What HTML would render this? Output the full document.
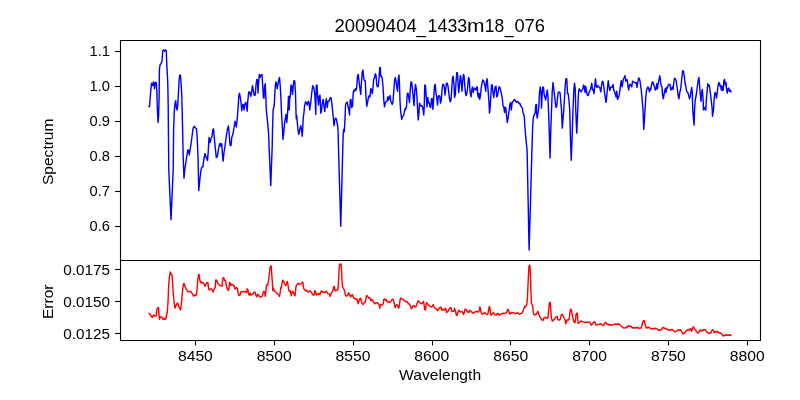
<!DOCTYPE html>
<html><head><meta charset="utf-8"><title>20090404_1433m18_076</title>
<style>
html,body{margin:0;padding:0;background:#fff;}
body{width:800px;height:400px;overflow:hidden;font-family:"Liberation Sans",sans-serif;}
svg{display:block;}
</style></head><body>
<svg width="800" height="400" viewBox="0 0 800 400">
<rect x="0" y="0" width="800" height="400" fill="#fff"/>
<path d="M148.50,107.30 L149.50,106.20 L150.50,93.75 L151.50,83.10 L152.50,85.60 L153.50,81.90 L154.50,88.75 L155.30,82.25 L156.25,82.75 L156.90,92.50 L157.50,112.50 L158.10,122.50 L158.60,116.00 L159.10,98.75 L159.40,70.00 L160.00,65.00 L161.00,63.75 L162.00,61.25 L162.75,50.60 L163.75,50.00 L164.50,51.25 L165.40,50.00 L166.25,50.60 L166.75,63.75 L167.75,82.50 L168.20,105.00 L168.40,130.00 L168.80,170.00 L171.00,219.60 L173.20,170.00 L173.60,130.00 L174.25,111.25 L175.00,103.75 L175.75,100.60 L176.50,108.75 L177.10,110.00 L177.75,105.00 L178.75,87.50 L179.00,81.25 L179.75,75.00 L180.50,75.60 L181.25,86.25 L181.75,95.00 L182.00,105.00 L182.50,125.00 L183.20,157.50 L184.00,178.10 L184.75,170.00 L186.25,160.00 L187.75,150.00 L188.50,150.00 L189.25,155.00 L190.25,148.75 L191.90,137.50 L193.10,128.10 L194.40,126.25 L195.60,128.10 L196.50,128.75 L197.25,138.75 L198.00,157.50 L198.75,190.60 L200.00,178.00 L201.00,170.00 L201.90,166.90 L202.90,166.90 L203.75,160.00 L205.00,153.50 L206.25,157.50 L207.50,160.60 L208.25,151.25 L209.00,137.50 L210.00,142.50 L211.00,138.75 L212.00,136.25 L212.75,130.00 L213.50,128.75 L214.25,137.50 L215.25,147.50 L216.25,157.50 L217.25,156.90 L218.50,148.75 L220.00,143.10 L221.00,146.25 L221.75,143.75 L222.50,155.00 L223.10,161.25 L224.00,152.50 L225.00,146.25 L226.25,136.25 L227.50,128.75 L228.50,126.00 L229.25,135.00 L230.00,145.00 L231.00,145.60 L231.75,137.50 L233.00,133.75 L234.00,127.50 L235.00,121.25 L235.50,122.50 L236.25,127.00 L237.00,121.00 L237.75,112.00 L238.25,105.00 L238.80,96.00 L239.50,93.12 L240.50,98.75 L241.25,105.00 L241.75,110.62 L242.50,105.00 L243.25,104.38 L244.00,110.00 L244.75,105.00 L245.50,102.50 L246.25,103.12 L247.12,111.25 L247.75,101.25 L248.75,91.88 L249.75,91.88 L250.75,96.25 L251.50,93.12 L252.50,85.62 L253.25,90.00 L254.25,95.62 L255.25,95.00 L256.00,85.00 L256.75,79.38 L257.50,80.00 L258.00,93.12 L258.50,83.75 L259.25,74.38 L260.00,77.50 L261.00,75.00 L262.00,74.38 L262.75,86.25 L263.50,98.12 L264.00,98.12 L264.50,87.50 L265.25,83.75 L265.88,98.75 L266.25,108.75 L266.75,115.00 L267.75,123.75 L268.75,136.25 L269.00,145.00 L270.75,185.60 L272.25,145.00 L272.50,130.00 L273.12,110.00 L273.75,107.50 L274.25,105.00 L275.00,90.00 L275.75,81.88 L276.50,83.75 L277.25,88.75 L278.00,83.75 L278.75,80.00 L279.50,77.50 L280.25,86.25 L281.00,100.00 L281.50,112.50 L282.00,121.25 L282.50,130.00 L283.00,139.38 L283.75,132.50 L284.50,123.75 L285.25,118.75 L286.00,114.38 L286.75,122.50 L287.25,117.50 L287.75,110.00 L288.00,106.25 L288.50,96.25 L289.25,110.00 L289.75,96.25 L290.25,97.50 L291.00,85.00 L291.75,86.25 L292.50,94.38 L293.25,85.00 L294.00,80.62 L294.75,81.25 L295.50,93.75 L296.00,112.50 L296.25,118.75 L296.75,115.62 L297.25,122.50 L298.00,130.00 L298.75,134.38 L299.75,130.00 L300.75,125.62 L301.50,130.00 L302.25,136.25 L302.75,127.50 L303.25,117.50 L304.00,112.50 L304.50,106.25 L305.50,101.88 L306.50,102.50 L307.25,105.00 L308.25,101.25 L309.00,102.50 L309.75,110.00 L310.75,102.50 L311.75,92.50 L312.75,85.62 L313.75,87.50 L314.75,93.75 L315.25,102.50 L315.75,114.38 L316.25,85.62 L317.00,85.00 L317.75,97.50 L318.50,105.00 L319.25,96.25 L320.00,95.00 L320.75,113.12 L321.50,111.25 L322.25,103.75 L323.25,99.38 L324.00,106.25 L324.75,111.50 L325.50,103.75 L326.25,98.75 L327.25,107.50 L328.00,101.25 L329.00,101.25 L330.00,98.12 L331.00,97.50 L331.75,102.50 L332.50,110.00 L332.75,112.50 L333.50,120.00 L334.00,125.62 L334.75,120.00 L335.50,118.12 L336.25,118.75 L337.00,122.50 L337.75,126.25 L338.20,134.00 L338.40,145.00 L340.75,226.25 L343.00,140.00 L343.30,132.50 L343.75,129.40 L344.30,131.90 L345.00,118.75 L345.50,106.00 L345.75,103.75 L346.50,103.12 L347.25,101.88 L348.00,106.25 L348.75,109.38 L349.50,115.00 L350.25,100.00 L351.00,99.38 L351.75,107.50 L352.50,106.25 L353.25,92.50 L354.00,90.00 L354.75,91.25 L355.50,88.75 L356.25,90.00 L356.75,86.88 L357.50,76.25 L358.25,74.38 L359.00,81.25 L359.75,87.50 L360.75,94.38 L361.50,81.25 L362.25,71.88 L363.00,70.00 L363.75,78.75 L364.50,80.62 L365.25,80.62 L366.00,97.50 L366.75,106.25 L367.50,102.50 L368.50,97.50 L369.25,95.62 L370.00,96.88 L370.75,88.75 L371.50,89.38 L372.25,93.75 L373.00,87.50 L373.75,78.75 L374.50,78.12 L375.25,73.75 L376.00,75.00 L376.75,85.00 L377.50,86.88 L378.25,86.25 L379.00,78.75 L379.75,67.50 L380.25,67.50 L380.75,76.25 L381.50,76.25 L382.25,78.75 L383.00,86.25 L383.75,100.00 L384.50,106.88 L385.25,102.50 L386.00,101.88 L387.00,101.25 L387.75,96.88 L388.50,100.00 L389.25,96.88 L390.00,95.62 L390.75,101.25 L391.50,102.50 L392.25,104.38 L393.00,101.25 L393.75,91.25 L394.50,81.25 L395.25,77.50 L396.00,81.25 L396.75,86.88 L397.50,91.25 L398.25,78.75 L399.00,75.00 L399.50,85.00 L400.00,101.25 L400.75,112.50 L401.75,119.38 L402.50,116.25 L403.50,115.62 L404.25,112.50 L405.00,108.75 L405.75,109.38 L406.50,106.25 L407.25,93.75 L408.00,93.12 L408.75,97.50 L409.50,102.50 L410.25,90.00 L411.00,81.88 L411.75,82.50 L412.50,90.00 L413.25,97.50 L414.00,105.62 L414.75,91.25 L415.50,84.38 L416.25,88.75 L417.00,97.50 L417.75,112.50 L418.25,120.00 L419.00,112.50 L419.50,103.12 L420.25,105.00 L421.00,106.25 L421.75,105.62 L422.50,106.88 L423.25,111.25 L423.75,115.00 L424.25,106.25 L424.75,85.00 L425.50,85.62 L426.25,97.50 L427.00,106.88 L427.75,97.50 L428.50,103.12 L429.25,102.50 L430.00,106.88 L430.75,107.50 L431.50,98.75 L432.25,98.75 L432.88,109.38 L433.75,97.50 L434.50,85.62 L435.25,84.38 L436.00,93.12 L436.75,97.50 L437.50,105.00 L438.25,96.25 L439.00,95.62 L439.75,96.25 L440.50,103.12 L441.25,100.00 L442.00,90.00 L442.75,84.38 L443.50,84.38 L444.25,86.88 L445.00,95.00 L445.75,88.75 L446.50,83.12 L447.25,83.12 L448.00,86.25 L448.75,92.50 L449.50,98.75 L450.25,101.88 L451.00,100.00 L451.75,88.75 L452.50,77.50 L453.25,76.25 L454.00,85.00 L454.50,97.50 L455.25,95.00 L456.00,82.50 L456.75,72.50 L457.50,73.12 L458.00,82.50 L458.75,92.50 L459.50,85.00 L460.25,75.62 L460.75,76.25 L461.50,85.00 L462.00,91.25 L462.75,80.00 L463.50,74.38 L464.00,75.62 L464.75,85.00 L465.50,93.75 L466.25,95.62 L467.00,92.50 L467.75,86.25 L468.50,77.50 L469.25,78.75 L470.00,91.25 L471.00,96.88 L471.75,90.00 L472.50,86.88 L473.25,92.50 L473.75,89.38 L474.50,88.12 L475.25,89.38 L476.00,90.00 L476.75,86.88 L477.25,86.88 L477.75,95.00 L478.50,97.50 L479.00,93.12 L479.75,99.38 L480.50,95.00 L481.25,87.50 L482.00,83.12 L482.75,80.00 L483.50,80.62 L484.25,83.12 L485.00,86.25 L485.75,91.25 L486.25,82.50 L487.00,78.75 L487.50,82.50 L488.25,92.50 L489.00,102.50 L489.50,113.12 L490.12,107.50 L490.75,97.50 L491.50,85.00 L492.25,85.00 L493.00,92.50 L493.75,97.50 L494.50,91.25 L495.25,86.88 L496.00,86.25 L496.75,96.88 L497.50,95.62 L498.25,91.25 L499.00,86.88 L499.75,86.88 L500.50,90.00 L501.25,93.12 L502.00,96.88 L502.75,102.50 L502.75,105.00 L503.75,106.88 L504.50,112.50 L505.00,107.50 L505.75,107.50 L506.50,115.00 L507.25,122.50 L508.00,118.75 L509.00,111.25 L510.00,103.75 L510.75,102.50 L511.25,110.00 L512.00,103.75 L512.50,101.88 L513.38,101.00 L514.62,99.50 L515.62,101.00 L516.50,102.50 L517.50,101.50 L518.38,102.00 L519.00,103.75 L520.00,103.38 L520.62,105.62 L521.50,106.88 L522.50,108.50 L523.00,113.12 L523.62,113.75 L524.38,117.50 L524.75,125.00 L525.50,133.75 L526.25,142.50 L527.10,150.00 L528.20,205.00 L529.10,250.00 L530.40,205.00 L531.90,150.00 L532.75,125.00 L533.50,116.25 L534.50,114.38 L535.25,112.50 L535.75,105.00 L536.50,104.38 L536.50,112.50 L537.25,118.12 L538.00,112.50 L538.75,107.50 L539.50,92.50 L540.25,86.88 L541.00,92.50 L541.50,108.12 L542.00,97.50 L542.75,86.88 L543.50,87.50 L544.25,95.00 L545.00,97.50 L545.75,100.00 L546.50,95.00 L547.25,90.00 L548.00,97.50 L548.50,110.00 L549.20,130.00 L550.00,158.10 L550.80,130.00 L551.50,110.00 L552.25,91.25 L553.00,82.50 L553.75,88.75 L554.50,95.00 L555.25,102.50 L556.00,107.50 L556.75,106.25 L557.50,97.50 L558.25,92.50 L559.00,91.88 L560.00,92.50 L560.75,101.25 L561.50,110.00 L562.25,128.10 L563.75,110.00 L564.50,97.50 L565.25,85.00 L566.00,78.75 L566.75,78.75 L567.50,93.75 L568.25,93.75 L569.00,101.25 L569.75,110.00 L570.50,140.00 L571.25,160.25 L572.00,140.00 L573.00,110.00 L573.75,91.25 L574.50,83.12 L575.25,88.75 L575.75,110.00 L576.75,133.10 L577.75,110.00 L578.50,92.50 L579.25,88.75 L580.00,90.00 L581.00,91.88 L582.00,90.00 L582.75,89.38 L583.50,85.00 L584.25,86.25 L585.00,92.50 L585.75,86.25 L586.50,91.25 L587.25,95.00 L588.00,95.62 L588.75,93.75 L589.50,91.25 L590.25,90.00 L591.00,87.50 L591.75,83.12 L592.50,90.00 L593.25,89.38 L594.00,93.75 L594.75,86.25 L595.50,78.75 L596.25,86.25 L597.00,87.50 L597.75,85.62 L598.75,86.88 L599.75,87.50 L600.75,91.88 L601.50,86.25 L602.25,81.25 L603.00,81.88 L603.75,86.25 L604.50,92.50 L605.25,97.50 L606.00,102.50 L606.75,96.25 L607.50,87.50 L608.25,80.62 L609.00,86.25 L609.75,90.62 L610.50,87.50 L611.25,86.88 L612.25,87.50 L613.00,84.38 L613.75,90.00 L614.50,91.88 L615.25,93.75 L616.00,96.88 L616.75,91.25 L617.50,99.38 L618.25,97.50 L619.00,96.25 L619.75,91.25 L620.50,85.00 L621.25,80.62 L622.00,86.88 L622.75,82.50 L623.50,78.75 L624.25,77.50 L625.00,75.62 L625.75,81.25 L626.50,79.38 L627.25,80.00 L628.00,86.25 L628.75,90.00 L629.50,85.00 L630.25,84.38 L631.00,85.62 L631.75,86.88 L632.50,81.25 L633.50,81.88 L634.50,82.50 L635.50,83.12 L636.25,82.50 L637.00,87.50 L637.75,82.50 L638.50,78.12 L639.25,78.12 L640.00,81.25 L640.75,86.25 L641.50,92.50 L642.25,101.25 L643.00,110.00 L643.75,129.40 L645.00,110.00 L645.75,97.50 L646.50,90.62 L647.25,88.12 L648.00,86.88 L648.75,89.38 L649.50,91.88 L650.00,88.12 L650.75,90.00 L651.50,85.00 L652.25,81.88 L653.00,81.88 L653.75,85.00 L654.50,86.88 L655.25,90.00 L656.00,89.38 L656.75,83.75 L657.50,88.75 L658.25,82.50 L659.00,80.00 L659.75,75.62 L660.50,81.25 L661.25,86.25 L662.00,86.88 L662.50,95.00 L663.25,98.75 L664.00,95.00 L664.75,90.62 L665.50,88.12 L666.00,92.50 L666.75,87.50 L667.50,88.12 L668.25,85.00 L669.00,84.38 L670.00,84.38 L670.75,90.00 L671.50,89.38 L672.25,86.88 L673.00,89.38 L673.75,83.12 L674.50,78.12 L675.25,78.75 L676.00,80.00 L676.75,85.00 L677.50,90.00 L678.25,96.25 L679.00,98.75 L679.75,92.50 L680.50,90.00 L681.25,83.75 L682.00,76.25 L682.75,70.62 L683.50,71.25 L684.25,76.25 L685.00,82.50 L685.75,86.25 L686.50,90.62 L687.25,91.88 L688.00,93.12 L688.75,95.62 L689.50,98.75 L690.25,96.25 L691.00,91.25 L691.75,87.50 L692.25,92.50 L692.75,110.00 L694.10,125.00 L694.50,110.00 L695.25,100.00 L696.00,96.25 L696.75,91.25 L697.50,85.00 L698.25,80.00 L699.00,77.50 L699.50,85.00 L700.25,93.75 L701.00,101.25 L701.50,93.75 L702.25,89.38 L702.75,95.00 L703.25,102.50 L703.38,108.75 L703.50,110.00 L704.50,107.50 L705.50,110.00 L705.75,110.00 L706.25,101.25 L707.00,92.50 L707.75,83.75 L708.50,86.25 L709.25,85.00 L710.00,90.00 L710.75,96.25 L711.50,102.50 L712.25,110.00 L712.50,116.25 L713.50,110.00 L714.25,97.50 L715.00,92.50 L715.75,93.12 L716.50,98.12 L717.25,92.50 L718.00,86.25 L718.75,82.50 L719.50,83.12 L720.00,86.25 L720.75,85.62 L721.25,90.00 L722.00,86.25 L722.50,90.62 L723.25,90.00 L723.75,81.25 L724.50,79.38 L725.25,85.00 L726.00,82.50 L726.50,88.75 L727.25,93.12 L728.00,88.75 L728.75,88.12 L729.50,91.25 L730.25,90.00 L731.00,91.88 L731.75,91.88" fill="none" stroke="#0000ff" stroke-width="1.42" stroke-linejoin="round" stroke-linecap="butt"/>
<path d="M148.50,313.12 L149.50,313.75 L150.50,315.00 L151.50,316.88 L152.50,317.25 L153.50,315.00 L154.50,315.62 L155.50,316.25 L156.25,315.62 L157.00,308.75 L157.75,308.12 L158.50,307.50 L159.00,315.00 L159.50,319.38 L160.25,316.88 L161.00,316.88 L161.75,316.88 L162.50,318.75 L163.25,319.38 L164.00,318.50 L165.00,319.38 L165.75,319.00 L166.50,315.00 L167.25,312.50 L168.00,302.50 L168.75,283.75 L169.50,276.25 L170.25,271.88 L171.25,274.38 L172.00,275.00 L172.75,285.00 L173.50,296.25 L174.25,303.75 L175.00,308.12 L175.75,306.25 L176.50,304.38 L177.25,303.12 L178.00,303.75 L178.75,306.25 L179.75,308.75 L180.50,310.00 L181.25,305.00 L182.00,296.25 L182.75,288.75 L183.50,283.75 L184.25,283.75 L185.00,286.25 L185.75,288.12 L186.50,289.38 L187.25,290.62 L188.00,291.88 L189.00,291.88 L190.00,291.25 L191.00,291.88 L191.75,293.12 L192.50,293.75 L193.50,296.25 L194.50,295.00 L195.50,295.62 L196.25,295.00 L197.00,290.00 L197.75,280.00 L198.50,274.38 L199.25,275.00 L199.75,280.00 L200.50,282.50 L201.25,281.88 L202.00,283.12 L202.75,282.50 L203.50,283.12 L204.25,284.38 L205.00,286.25 L205.75,285.00 L206.50,283.12 L207.25,282.50 L208.00,283.12 L208.50,288.12 L209.25,290.00 L210.00,289.38 L211.00,288.75 L211.75,289.38 L212.50,291.25 L213.25,291.88 L214.00,289.38 L214.75,288.12 L215.25,287.50 L215.75,280.00 L216.50,280.00 L217.25,281.88 L218.00,283.75 L219.00,284.38 L220.00,285.62 L221.00,285.62 L222.00,286.25 L222.50,281.25 L223.25,277.50 L224.00,278.12 L224.75,280.62 L225.50,280.62 L226.25,285.00 L227.00,288.12 L227.75,289.38 L228.50,290.62 L229.00,287.50 L229.50,282.50 L230.25,283.12 L231.00,285.62 L231.75,284.38 L232.50,285.00 L233.25,285.00 L234.00,285.62 L234.75,288.75 L235.50,288.75 L236.00,287.62 L236.75,287.62 L237.50,288.88 L238.25,293.88 L239.00,295.50 L240.00,295.12 L240.75,292.00 L241.50,291.38 L242.50,292.00 L243.50,291.38 L244.50,292.00 L245.50,291.38 L246.50,292.62 L247.25,288.88 L248.00,290.12 L248.75,294.50 L249.50,295.12 L250.25,293.25 L251.00,295.12 L252.00,294.50 L253.00,293.88 L253.75,292.62 L254.50,292.00 L255.25,292.62 L256.00,295.75 L256.75,297.00 L257.50,294.50 L258.25,294.50 L259.00,295.75 L260.00,297.00 L261.00,297.00 L261.75,296.38 L262.50,295.75 L263.25,292.00 L264.00,291.38 L264.75,292.62 L265.25,296.38 L265.75,292.00 L266.25,287.00 L267.00,284.50 L267.75,285.12 L268.50,280.75 L269.25,274.50 L270.00,268.25 L270.75,265.75 L271.25,266.38 L271.75,274.50 L272.25,280.75 L272.75,290.75 L273.50,288.25 L274.25,290.75 L275.00,291.38 L275.75,292.00 L276.50,293.25 L277.25,293.25 L278.00,294.50 L278.75,295.12 L279.50,296.38 L280.25,292.00 L280.75,287.62 L281.25,288.25 L282.00,283.25 L282.75,280.12 L283.50,280.75 L284.25,283.25 L285.00,284.50 L285.75,285.75 L286.50,283.88 L287.25,281.38 L287.75,283.25 L288.25,287.00 L288.75,290.12 L289.50,291.38 L290.25,290.75 L290.75,292.62 L291.25,295.75 L292.00,292.00 L292.75,291.38 L293.50,292.62 L294.25,295.12 L295.00,295.75 L295.50,290.75 L296.00,286.38 L296.75,285.12 L297.50,283.88 L298.25,283.25 L299.00,284.50 L299.75,283.88 L300.75,283.88 L301.75,283.25 L302.50,282.00 L303.00,283.25 L303.50,287.62 L304.25,289.50 L305.00,290.12 L305.75,290.75 L306.50,290.12 L307.25,291.38 L308.00,292.00 L308.75,292.00 L309.50,290.75 L310.25,290.75 L311.00,292.00 L311.75,293.25 L312.50,293.88 L313.25,295.12 L314.00,295.12 L314.75,290.75 L315.50,291.38 L316.25,295.12 L317.00,294.50 L317.75,293.88 L318.50,294.50 L319.25,293.25 L320.00,294.50 L320.75,292.00 L321.50,291.00 L322.25,291.38 L323.00,292.62 L324.00,292.00 L325.00,292.62 L325.75,291.38 L326.50,291.38 L327.25,292.62 L328.00,293.88 L328.75,293.88 L329.50,294.50 L330.00,296.38 L330.75,294.50 L331.50,292.62 L332.25,292.00 L333.00,290.12 L333.75,286.38 L334.50,287.00 L335.00,290.75 L335.75,290.12 L336.50,290.50 L337.25,290.12 L338.00,288.88 L338.50,280.75 L339.00,272.00 L339.50,265.12 L340.25,263.88 L341.00,263.88 L341.50,269.50 L342.00,280.75 L342.50,286.38 L343.25,288.25 L344.00,289.50 L344.75,291.38 L345.50,295.75 L346.25,296.00 L347.00,295.75 L347.75,295.12 L348.50,292.62 L349.25,294.50 L350.00,295.12 L350.75,297.00 L351.50,295.75 L352.25,294.50 L353.00,296.38 L353.75,298.25 L354.50,298.25 L355.25,298.88 L356.00,299.50 L356.75,298.88 L357.50,300.75 L358.25,303.88 L359.00,300.75 L359.75,298.88 L360.50,298.25 L361.25,300.75 L362.00,303.25 L362.75,304.50 L363.50,303.88 L364.25,302.62 L365.00,302.62 L365.75,299.50 L366.50,295.75 L367.25,295.75 L368.00,297.00 L368.75,298.25 L369.50,297.62 L370.25,298.88 L371.00,300.75 L371.75,299.50 L372.50,300.12 L373.25,302.00 L374.00,302.62 L374.75,303.88 L375.50,303.25 L376.25,302.62 L377.00,302.62 L377.75,303.25 L378.50,303.88 L379.25,305.12 L379.75,308.25 L380.25,305.12 L381.00,304.50 L381.75,305.12 L382.50,304.50 L383.25,303.88 L383.75,299.50 L384.50,298.88 L385.25,300.12 L386.00,299.25 L386.75,301.38 L387.50,302.00 L388.25,301.38 L389.00,301.75 L389.75,302.62 L390.50,302.00 L391.25,300.75 L392.00,299.50 L392.75,299.25 L393.50,300.12 L394.25,303.25 L395.00,307.62 L395.75,305.75 L396.50,304.50 L397.25,305.12 L398.00,307.00 L398.75,308.25 L399.50,304.50 L400.25,298.88 L401.00,298.00 L401.75,298.88 L402.50,299.25 L403.25,299.50 L404.00,300.12 L404.75,300.75 L405.50,301.38 L406.25,301.75 L407.00,301.38 L407.75,302.62 L408.50,303.88 L409.25,303.88 L410.00,305.12 L410.75,307.00 L411.50,308.88 L412.25,307.00 L413.00,305.75 L413.75,305.50 L414.50,306.38 L415.25,307.00 L416.00,306.38 L416.75,304.50 L417.50,302.00 L418.25,300.75 L419.00,301.75 L419.75,302.62 L420.50,303.25 L421.25,303.88 L422.00,303.25 L422.75,302.62 L423.50,301.38 L424.00,304.50 L424.75,309.50 L425.50,310.12 L426.00,304.50 L426.50,302.62 L427.25,303.50 L428.00,304.50 L428.75,305.12 L429.50,305.75 L430.25,306.38 L431.00,306.75 L431.75,307.00 L432.50,305.75 L433.25,304.50 L434.00,307.00 L434.75,308.25 L435.50,308.62 L436.25,308.88 L437.00,310.12 L437.75,310.50 L438.50,308.88 L439.25,308.25 L440.00,307.62 L440.75,307.00 L441.25,307.62 L441.75,310.12 L442.50,309.50 L443.25,309.25 L444.00,310.12 L444.75,310.12 L445.50,308.25 L446.00,309.50 L446.50,312.62 L447.25,312.00 L448.00,311.38 L448.75,310.12 L449.50,308.25 L450.25,307.62 L451.00,307.62 L451.75,311.38 L452.50,311.38 L453.25,311.38 L454.00,310.75 L454.50,308.25 L455.00,310.12 L455.75,312.00 L456.25,315.12 L457.00,315.50 L457.50,313.25 L458.25,311.38 L459.00,310.12 L459.75,311.38 L460.50,312.00 L461.25,311.75 L462.00,311.38 L462.75,312.62 L463.50,314.50 L464.25,312.62 L465.00,309.50 L465.75,309.25 L466.50,310.12 L467.25,311.75 L468.00,312.00 L468.75,312.62 L469.50,310.75 L470.25,310.50 L471.00,311.38 L471.75,312.00 L472.50,313.00 L473.25,313.00 L474.00,312.62 L474.75,312.25 L475.50,311.75 L476.25,311.38 L477.00,311.38 L477.75,312.00 L478.50,312.00 L479.25,310.75 L479.75,307.00 L480.25,307.62 L480.75,310.75 L481.50,313.25 L482.25,314.25 L483.00,313.88 L483.75,313.25 L484.50,312.62 L485.25,313.25 L486.00,313.88 L486.75,314.25 L487.50,314.50 L488.00,313.25 L488.50,310.75 L489.00,307.62 L489.50,306.38 L490.00,308.88 L490.50,313.25 L491.00,315.12 L491.75,314.75 L492.50,313.25 L493.25,312.62 L494.00,313.25 L494.75,314.50 L495.50,315.12 L496.25,315.12 L497.00,313.88 L497.75,313.25 L498.50,314.25 L499.25,315.12 L500.00,314.75 L501.00,314.00 L502.00,313.75 L503.00,313.12 L504.00,313.50 L505.00,313.12 L506.00,313.12 L506.75,311.88 L507.50,310.00 L508.25,309.38 L509.00,311.88 L509.75,314.00 L510.50,313.75 L511.25,312.50 L512.00,313.12 L512.75,312.75 L513.50,312.50 L514.25,313.12 L515.00,313.50 L515.75,313.75 L516.50,313.12 L517.25,312.75 L518.00,313.12 L518.75,314.00 L519.50,314.38 L520.25,313.75 L521.00,313.50 L521.75,313.12 L522.50,312.50 L523.25,310.62 L524.00,308.12 L524.75,306.25 L525.50,306.88 L526.25,305.62 L526.75,304.75 L527.50,297.00 L528.00,284.50 L528.50,274.50 L529.00,266.38 L529.50,265.12 L530.00,266.38 L530.50,277.00 L531.00,293.25 L531.50,303.25 L532.25,305.00 L532.75,306.25 L533.25,312.50 L534.00,314.38 L534.75,315.00 L535.50,314.38 L536.25,314.38 L537.00,313.12 L537.75,311.25 L538.50,313.12 L539.25,315.62 L540.00,316.88 L540.75,318.12 L541.50,319.38 L542.25,320.00 L543.00,320.62 L543.75,318.12 L544.50,317.50 L545.25,317.75 L546.00,317.25 L546.75,318.12 L547.50,318.50 L548.00,316.88 L548.50,312.50 L549.00,306.25 L549.50,302.50 L550.25,302.50 L550.75,308.75 L551.25,316.25 L552.00,320.62 L552.75,321.00 L553.50,320.00 L554.25,319.38 L555.00,318.12 L555.75,317.25 L556.50,316.88 L557.25,316.50 L557.75,319.38 L558.50,320.00 L559.25,320.00 L560.00,319.75 L560.75,316.88 L561.50,314.38 L562.25,314.38 L563.00,315.62 L563.75,317.25 L564.50,318.75 L565.25,320.00 L565.75,323.75 L566.50,322.50 L567.00,320.00 L567.75,320.00 L568.50,319.75 L569.25,318.75 L569.75,314.38 L570.25,310.00 L570.75,309.00 L571.50,310.62 L572.00,313.75 L572.75,317.50 L573.50,320.62 L574.25,322.25 L575.00,322.50 L575.50,320.00 L576.00,315.00 L576.50,313.12 L577.25,313.12 L577.75,318.75 L578.25,323.50 L579.00,322.75 L579.75,321.88 L580.50,321.25 L581.25,321.25 L582.50,321.50 L583.75,322.25 L585.00,322.50 L586.25,322.25 L587.50,322.25 L588.75,321.88 L589.75,322.25 L590.50,323.75 L591.25,325.25 L592.00,324.38 L592.75,323.12 L593.50,322.25 L594.25,321.88 L595.00,322.25 L595.50,323.50 L596.00,324.75 L596.50,325.00 L597.50,324.75 L598.50,324.38 L599.50,324.38 L600.50,323.75 L601.25,324.00 L602.00,324.75 L602.75,325.25 L603.50,325.62 L604.25,324.00 L605.00,322.75 L605.75,322.50 L606.50,323.50 L607.25,324.38 L608.00,324.00 L608.75,325.00 L609.50,324.38 L610.25,325.00 L611.00,325.25 L611.75,325.00 L612.50,324.75 L613.50,324.38 L614.50,324.38 L615.50,324.00 L616.50,324.38 L617.50,324.00 L618.25,324.38 L619.00,324.00 L619.75,324.38 L620.50,325.62 L621.25,326.25 L622.00,326.88 L622.75,327.25 L623.50,328.12 L624.50,328.12 L625.50,327.75 L626.25,327.25 L627.00,327.50 L627.75,326.50 L628.50,325.62 L629.25,326.25 L630.00,326.50 L630.75,326.25 L631.50,326.88 L632.25,327.75 L633.00,328.12 L633.75,327.75 L634.50,328.12 L635.25,327.75 L636.00,327.50 L636.75,328.12 L637.50,327.75 L638.25,327.50 L639.00,328.12 L639.75,328.50 L640.50,328.12 L641.25,327.75 L641.75,326.25 L642.25,323.75 L643.00,321.25 L643.75,320.62 L644.25,320.62 L644.75,323.12 L645.25,325.00 L645.75,326.88 L646.50,328.12 L647.25,327.75 L648.00,327.50 L648.75,327.25 L649.50,327.50 L650.25,328.50 L651.00,329.00 L651.75,328.75 L652.50,328.50 L653.25,328.75 L654.00,328.50 L654.75,328.75 L655.50,328.12 L656.25,328.50 L657.00,329.00 L657.75,329.38 L658.50,330.25 L659.25,330.00 L660.00,329.75 L660.75,330.00 L661.50,329.38 L662.25,328.12 L663.00,327.50 L663.75,327.75 L664.50,328.12 L665.25,328.50 L666.00,328.75 L666.75,329.00 L667.50,329.38 L668.25,330.00 L669.00,330.25 L669.75,329.75 L670.50,330.00 L671.25,329.75 L672.00,329.38 L672.75,330.00 L673.50,330.62 L674.25,331.25 L675.00,331.88 L675.75,331.50 L676.50,331.00 L677.25,330.62 L678.00,330.00 L678.75,329.75 L679.50,330.00 L680.25,329.75 L680.75,330.00 L681.25,331.25 L682.00,332.50 L682.75,333.50 L683.50,333.75 L684.25,333.12 L685.00,332.75 L685.75,331.25 L686.50,330.62 L687.25,330.00 L688.00,329.75 L688.75,329.38 L689.50,330.00 L690.25,328.75 L691.00,329.00 L691.50,331.25 L692.00,330.62 L692.50,328.12 L693.25,326.88 L693.75,327.25 L694.50,328.75 L695.25,330.00 L696.00,330.62 L696.75,331.88 L697.50,332.75 L698.25,333.12 L699.00,332.25 L699.50,330.62 L700.25,330.00 L701.00,330.62 L701.75,331.25 L702.50,330.00 L703.25,329.75 L704.00,330.00 L704.75,329.38 L705.50,330.00 L706.25,331.25 L707.00,332.25 L707.75,332.75 L708.50,333.12 L709.25,333.50 L710.00,332.75 L710.75,333.12 L711.50,331.25 L712.25,330.00 L713.00,329.75 L713.50,330.62 L714.25,332.75 L715.00,332.25 L715.75,331.50 L716.50,331.88 L717.25,331.25 L718.00,332.75 L718.75,332.25 L719.50,333.12 L720.25,332.75 L721.00,333.50 L721.75,334.38 L722.50,335.00 L723.25,336.00 L724.00,335.62 L724.75,335.25 L725.50,335.25 L726.25,335.00 L727.00,334.75 L727.75,335.00 L728.50,334.75 L729.25,335.25 L730.00,335.00 L730.75,335.25 L731.50,335.00" fill="none" stroke="#ff0000" stroke-width="1.42" stroke-linejoin="round" stroke-linecap="butt"/>
<g fill="none" stroke="#000" stroke-width="1.1">
<line x1="120.5" y1="40" x2="120.5" y2="341"/>
<line x1="760.5" y1="40" x2="760.5" y2="341"/>
<line x1="120" y1="40.5" x2="761" y2="40.5"/>
<line x1="120" y1="260.5" x2="761" y2="260.5"/>
<line x1="120" y1="340.5" x2="761" y2="340.5"/>
</g>
<g stroke="#000" stroke-width="1.1">
<line x1="195.50" y1="340.5" x2="195.50" y2="345.4"/>
<line x1="274.50" y1="340.5" x2="274.50" y2="345.4"/>
<line x1="353.50" y1="340.5" x2="353.50" y2="345.4"/>
<line x1="432.50" y1="340.5" x2="432.50" y2="345.4"/>
<line x1="510.50" y1="340.5" x2="510.50" y2="345.4"/>
<line x1="589.50" y1="340.5" x2="589.50" y2="345.4"/>
<line x1="668.50" y1="340.5" x2="668.50" y2="345.4"/>
<line x1="747.50" y1="340.5" x2="747.50" y2="345.4"/>
<line x1="115.1" y1="51.50" x2="120" y2="51.50"/>
<line x1="115.1" y1="86.50" x2="120" y2="86.50"/>
<line x1="115.1" y1="121.50" x2="120" y2="121.50"/>
<line x1="115.1" y1="156.50" x2="120" y2="156.50"/>
<line x1="115.1" y1="191.50" x2="120" y2="191.50"/>
<line x1="115.1" y1="226.50" x2="120" y2="226.50"/>
<line x1="115.1" y1="269.50" x2="120" y2="269.50"/>
<line x1="115.1" y1="301.50" x2="120" y2="301.50"/>
<line x1="115.1" y1="333.50" x2="120" y2="333.50"/>
</g>
<g font-family="Liberation Sans, sans-serif" fill="#000" style="filter:grayscale(1)">
<text x="195.40" y="361.2" font-size="14.1" text-anchor="middle" textLength="34.9" lengthAdjust="spacingAndGlyphs">8450</text>
<text x="274.20" y="361.2" font-size="14.1" text-anchor="middle" textLength="34.9" lengthAdjust="spacingAndGlyphs">8500</text>
<text x="353.00" y="361.2" font-size="14.1" text-anchor="middle" textLength="34.9" lengthAdjust="spacingAndGlyphs">8550</text>
<text x="431.80" y="361.2" font-size="14.1" text-anchor="middle" textLength="34.9" lengthAdjust="spacingAndGlyphs">8600</text>
<text x="510.70" y="361.2" font-size="14.1" text-anchor="middle" textLength="34.9" lengthAdjust="spacingAndGlyphs">8650</text>
<text x="589.60" y="361.2" font-size="14.1" text-anchor="middle" textLength="34.9" lengthAdjust="spacingAndGlyphs">8700</text>
<text x="668.40" y="361.2" font-size="14.1" text-anchor="middle" textLength="34.9" lengthAdjust="spacingAndGlyphs">8750</text>
<text x="747.30" y="361.2" font-size="14.1" text-anchor="middle" textLength="34.9" lengthAdjust="spacingAndGlyphs">8800</text>
<text x="109.95" y="56.25" font-size="14.1" text-anchor="end" textLength="20.4" lengthAdjust="spacingAndGlyphs">1.1</text>
<text x="109.95" y="91.25" font-size="14.1" text-anchor="end" textLength="20.4" lengthAdjust="spacingAndGlyphs">1.0</text>
<text x="109.95" y="126.25" font-size="14.1" text-anchor="end" textLength="20.4" lengthAdjust="spacingAndGlyphs">0.9</text>
<text x="109.95" y="161.25" font-size="14.1" text-anchor="end" textLength="20.4" lengthAdjust="spacingAndGlyphs">0.8</text>
<text x="109.95" y="196.25" font-size="14.1" text-anchor="end" textLength="20.4" lengthAdjust="spacingAndGlyphs">0.7</text>
<text x="109.95" y="231.25" font-size="14.1" text-anchor="end" textLength="20.4" lengthAdjust="spacingAndGlyphs">0.6</text>
<text x="110.05" y="275.10" font-size="14.1" text-anchor="end" textLength="46.9" lengthAdjust="spacingAndGlyphs">0.0175</text>
<text x="110.05" y="307.10" font-size="14.1" text-anchor="end" textLength="46.9" lengthAdjust="spacingAndGlyphs">0.0150</text>
<text x="110.05" y="339.10" font-size="14.1" text-anchor="end" textLength="46.9" lengthAdjust="spacingAndGlyphs">0.0125</text>
<text font-size="18.2"><tspan x="334.50" y="31.9" textLength="82.2" lengthAdjust="spacingAndGlyphs">20090404</tspan><tspan x="416.50" y="32.8" textLength="9.5" lengthAdjust="spacingAndGlyphs">_</tspan><tspan x="427.60" y="31.9" textLength="39.6" lengthAdjust="spacingAndGlyphs">1433</tspan><tspan x="467.00" y="31.9" textLength="17.5" lengthAdjust="spacingAndGlyphs">m</tspan><tspan x="484.80" y="31.9" textLength="19.4" lengthAdjust="spacingAndGlyphs">18</tspan><tspan x="504.70" y="32.8" textLength="9.0" lengthAdjust="spacingAndGlyphs">_</tspan><tspan x="514.40" y="31.9" textLength="30.6" lengthAdjust="spacingAndGlyphs">076</tspan></text>
<text x="440.1" y="379.8" font-size="14.1" text-anchor="middle" textLength="82" lengthAdjust="spacingAndGlyphs">Wavelength</text>
<text transform="translate(53,151.8) rotate(-90)" font-size="14.1" text-anchor="middle" textLength="66.4" lengthAdjust="spacingAndGlyphs">Spectrum</text>
<text transform="translate(53.1,301.8) rotate(-90)" font-size="14.1" text-anchor="middle" textLength="34.4" lengthAdjust="spacingAndGlyphs">Error</text>
</g>
</svg>
</body></html>
